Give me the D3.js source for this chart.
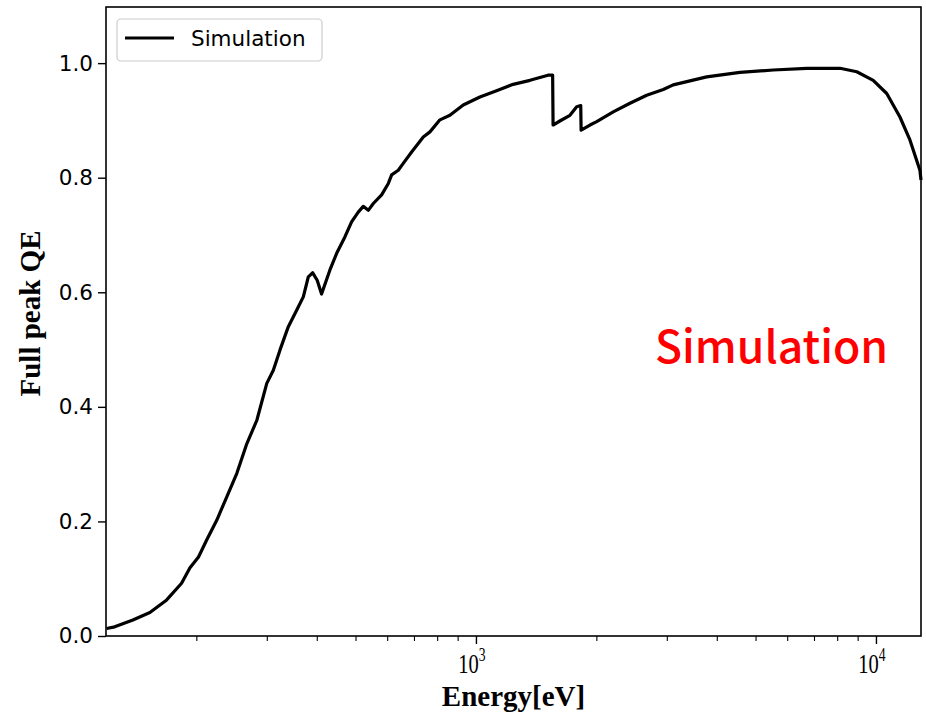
<!DOCTYPE html>
<html>
<head>
<meta charset="utf-8">
<script src="https://cdn.jsdelivr.net/npm/d3@7"></script>
<style>
  html, body { margin: 0; padding: 0; background: #fff; }
  svg { display: block; }
</style>
</head>
<body>
<svg id="chart" width="926" height="715"></svg>
<script>
// ---- data ----
const energy = [119.3, 125, 138.8, 153.1, 168.6, 183.7, 192.8, 202.5, 212.4, 224.9,
  238.3, 252.5, 267.5, 283.4, 300, 311.5, 323.6, 339.6, 356.5, 370.2,
  381, 390.8, 401, 411.2, 431.5, 448.6, 470.6, 488.8, 507.9, 522.7,
  538.1, 553.9, 581, 603.9, 615.6, 639.5, 658.1, 690.6, 738.5, 767.4,
  812.8, 860.7, 929.5, 1023, 1126, 1239, 1365, 1514, 1555, 1559,
  1621, 1718, 1786, 1828, 1832, 1928, 2004, 2204, 2427, 2672,
  2940, 3113, 3774, 4571, 5537, 6710, 8128, 8954, 9843, 10640,
  11480, 12160, 12880, 12960];
const qe = [0.013, 0.016, 0.028, 0.041, 0.063, 0.092, 0.119, 0.138, 0.168, 0.202,
  0.243, 0.284, 0.336, 0.377, 0.441, 0.464, 0.499, 0.540, 0.569, 0.592,
  0.627, 0.634, 0.621, 0.597, 0.639, 0.668, 0.697, 0.723, 0.740, 0.750,
  0.743, 0.755, 0.770, 0.790, 0.805, 0.813, 0.825, 0.845, 0.871, 0.880,
  0.901, 0.909, 0.927, 0.941, 0.952, 0.963, 0.970, 0.979, 0.979, 0.892,
  0.899, 0.909, 0.924, 0.926, 0.883, 0.892, 0.898, 0.915, 0.930, 0.944,
  0.954, 0.962, 0.976, 0.984, 0.988, 0.991, 0.991, 0.985, 0.970, 0.947,
  0.906, 0.866, 0.813, 0.796];
const yTicks = [0.0, 0.2, 0.4, 0.6, 0.8, 1.0];
const xMajorTicks = [1000, 10000];
const xMajorExp = ["3", "4"];
const xMinorTicks = [200, 300, 400, 500, 600, 700, 800, 900, 2000, 3000, 4000, 5000, 6000, 7000, 8000, 9000];
const seriesName = "Simulation";
const annotation = "Simulation";
const xTitle = "Energy[eV]";
const yTitle = "Full peak QE";

// ---- layout ----
const L = 106, R = 921, T = 7, B = 636;
const svg = d3.select("#chart");

const x = d3.scaleLog().domain([118.9, 12960]).range([L, R]);
const y = d3.scaleLinear().domain([0, 1.098]).range([B, T]);

// line
const pts = energy.map((e, i) => [e, qe[i]]);
const line = d3.line().x(d => x(d[0])).y(d => y(d[1]));
svg.append("path")
  .datum(pts)
  .attr("d", line)
  .attr("fill", "none")
  .attr("stroke", "#000")
  .attr("stroke-width", 3.2)
  .attr("stroke-linejoin", "round");

// frame
svg.append("rect")
  .attr("x", L).attr("y", T).attr("width", R - L).attr("height", B - T)
  .attr("fill", "none").attr("stroke", "#000").attr("stroke-width", 1.6);

// y axis
const yAxis = d3.axisLeft(y).tickValues(yTicks).tickFormat(d3.format(".1f"))
  .tickSize(8).tickPadding(5);
const gy = svg.append("g").attr("transform", `translate(${L},0)`).call(yAxis);
gy.select(".domain").remove();
gy.selectAll(".tick line").attr("stroke", "#000").attr("stroke-width", 1.4);
gy.selectAll(".tick text")
  .attr("font-family", "DejaVu Sans")
  .attr("font-size", 21.5)
  .attr("fill", "#000");

// x axis: minor ticks
const gxMinor = svg.append("g").attr("transform", `translate(0,${B})`)
  .call(d3.axisBottom(x).tickValues(xMinorTicks).tickFormat("").tickSize(5));
gxMinor.select(".domain").remove();
gxMinor.selectAll(".tick line").attr("stroke", "#000").attr("stroke-width", 1.1);

// x axis: major ticks
const gx = svg.append("g").attr("transform", `translate(0,${B})`)
  .call(d3.axisBottom(x).tickValues(xMajorTicks).tickFormat("").tickSize(8));
gx.select(".domain").remove();
gx.selectAll(".tick line").attr("stroke", "#000").attr("stroke-width", 1.4);

// major labels 10^n
xMajorTicks.forEach((v, i) => {
  const cx = x(v);
  const g = svg.append("g").attr("transform", `translate(${cx - 4},${B + 37}) scale(0.76,1)`);
  const t = g.append("text")
    .attr("text-anchor", "middle")
    .attr("font-family", "Liberation Serif")
    .attr("font-size", 27)
    .attr("fill", "#000");
  t.append("tspan").text("10");
  t.append("tspan").attr("font-size", 18).attr("dy", -12).text(xMajorExp[i]);
});

// axis titles
svg.append("text")
  .attr("x", (L + R) / 2).attr("y", 706)
  .attr("text-anchor", "middle")
  .attr("font-family", "Liberation Serif")
  .attr("font-weight", "bold")
  .attr("font-size", 29)
  .attr("fill", "#000")
  .text(xTitle);

svg.append("text")
  .attr("transform", `translate(40,${(T + B) / 2 - 8}) rotate(-90)`)
  .attr("text-anchor", "middle")
  .attr("font-family", "Liberation Serif")
  .attr("font-weight", "bold")
  .attr("font-size", 29)
  .attr("fill", "#000")
  .text(yTitle);

// legend
const lg = svg.append("g");
lg.append("rect")
  .attr("x", 117).attr("y", 19).attr("width", 205).attr("height", 42)
  .attr("rx", 4).attr("ry", 4)
  .attr("fill", "#fff").attr("fill-opacity", 0.8)
  .attr("stroke", "#cccccc").attr("stroke-width", 1.2);
lg.append("line")
  .attr("x1", 125).attr("x2", 174).attr("y1", 38).attr("y2", 38)
  .attr("stroke", "#000").attr("stroke-width", 3);
lg.append("text")
  .attr("x", 191).attr("y", 46)
  .attr("font-family", "DejaVu Sans")
  .attr("font-size", 21.5)
  .attr("fill", "#000")
  .text(seriesName);

// red annotation
svg.append("text")
  .attr("x", 655).attr("y", 363)
  .attr("font-family", "Noto Sans CJK SC")
  .attr("font-weight", 500)
  .attr("font-size", 44.5)
  .attr("fill", "#ff0000")
  .text(annotation);
</script>
</body>
</html>
